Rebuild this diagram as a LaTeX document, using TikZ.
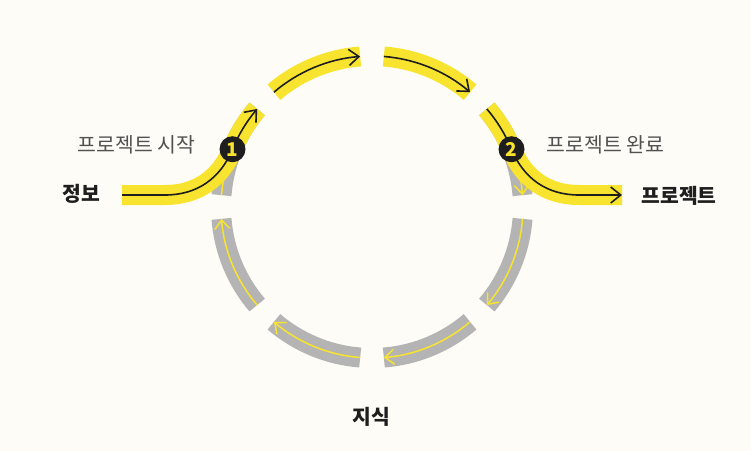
\documentclass[tikz,border=0pt]{standalone}
\usepackage{xcolor}
\usepackage{fontspec}
\newfontfamily\kr{Noto Sans CJK KR}
\usetikzlibrary{positioning,calc,arrows.meta}

\definecolor{paper}{HTML}{FDFCF6}
\definecolor{lemon}{HTML}{F8E42E}
\definecolor{ash}{HTML}{B4B4B4}
\definecolor{ink}{HTML}{1E1E1E}

\begin{document}
\begin{tikzpicture}[
			x=1pt, y=1pt,
			every node/.style={font=\kr},
			title/.style={font=\kr\bfseries\fontsize{20.4}{22}\selectfont, text=ink},
			caption/.style={font=\kr\fontsize{20.5}{22}\selectfont, text=black!68},
			marker/.style={circle, fill=ink, minimum size=26pt, inner sep=0pt, text=lemon, font=\kr\bfseries\fontsize{19}{19}\selectfont},
			band/.style={draw=lemon, line width=20pt},
			ring/.style={draw=ash, line width=20pt},
			flow/.style={draw=ink, line width=1.6pt, -{Straight Barb[length=10pt, width=16pt]}},
			backflow/.style={draw=lemon, line width=1.5pt, -{Straight Barb[length=9pt, width=15pt]}}
			]
			
			\fill [paper] (0, 0) rectangle (751, 451);
			\useasboundingbox (0, 0) rectangle (751, 451);
			
			\coordinate (c) at (372, 244);
			\coordinate (src) at (122, 256);
			\coordinate (dst) at (622, 256);
			\coordinate (p1) at ($(c)+(157.5:151)$);
			\coordinate (p2) at ($(c)+(22.5:151)$);
			
			\foreach \a in {319.5, 274.5, 229.5, 184.5, 139.5, 4.5} {
				\draw [ring] ($(c)+(\a+36:151)$) arc [start angle=\a+36, end angle=\a, radius=151pt];
				\draw [backflow] ($(c)+(\a+36:151)$) arc [start angle=\a+36, end angle=\a, radius=151pt];
			}
			
			\draw [band] (src) -- ++(43, 0) to [out=0, in=247.5] (p1) arc [start angle=157.5, end angle=139.5, radius=151pt];
			\draw [band] ($(c)+(40.5:151)$) arc [start angle=40.5, end angle=22.5, radius=151pt] to [out=292.5, in=180] (579, 256) -- (dst);
			\foreach \a in {94.5, 49.5} {
				\draw [band] ($(c)+(\a+36:151)$) arc [start angle=\a+36, end angle=\a, radius=151pt];
			}
			
			\draw [flow] (src) -- ++(43, 0) to [out=0, in=247.5] (p1) arc [start angle=157.5, end angle=139.5, radius=151pt];
			\draw [flow] ($(c)+(40.5:151)$) arc [start angle=40.5, end angle=22.5, radius=151pt] to [out=292.5, in=180] (579, 256) -- (dst);
			\foreach \a in {94.5, 49.5} {
				\draw [flow] ($(c)+(\a+36:151)$) arc [start angle=\a+36, end angle=\a, radius=151pt];
			}
			
			\node (n1) at (p1) [marker] {1};
			\node (n2) at (p2) [marker] {2};
			
			\node (start) at (199, 306) [caption, anchor=east] {프로젝트 시작};
			\node (done) at (543, 306) [caption, anchor=west] {프로젝트 완료};
			
			\node (info) at (81, 257) [title] {정보};
			\node (proj) at (679, 255) [title] {프로젝트};
			\node (know) at (371, 34) [title] {지식};
			\end{tikzpicture}
\end{document}
